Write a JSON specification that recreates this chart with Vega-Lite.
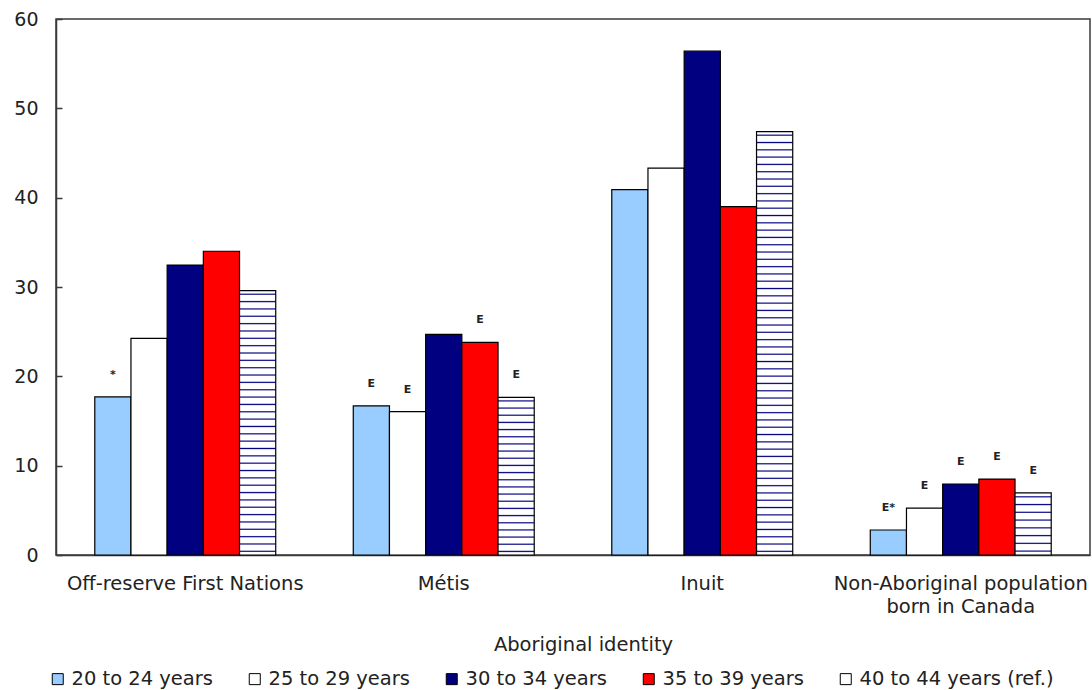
{
  "$schema": "https://vega.github.io/schema/vega-lite/v6.json",
  "width": 1034,
  "height": 536,
  "autosize": {"type": "none"},
  "padding": {"left": 56, "top": 19, "right": 2, "bottom": 135},
  "config": {
    "font": "DejaVu Sans",
    "view": {"stroke": "#3a3a3a", "strokeWidth": 1.5},
    "axis": {"grid": false, "domainColor": "#3a3a3a", "domainWidth": 1.5, "tickColor": "#3a3a3a", "tickWidth": 1.5, "labelColor": "#222222", "titleColor": "#222222", "labelFont": "DejaVu Sans", "titleFont": "DejaVu Sans"}
  },
  "data": {
    "values": [
      {"group": "Off-reserve First Nations", "series": "20 to 24 years", "value": 17.7, "note": "*"},
      {"group": "Off-reserve First Nations", "series": "25 to 29 years", "value": 24.25, "note": ""},
      {"group": "Off-reserve First Nations", "series": "30 to 34 years", "value": 32.45, "note": ""},
      {"group": "Off-reserve First Nations", "series": "35 to 39 years", "value": 34.0, "note": ""},
      {"group": "Off-reserve First Nations", "series": "40 to 44 years (ref.)", "value": 29.6, "note": ""},
      {"group": "Métis", "series": "20 to 24 years", "value": 16.7, "note": "E"},
      {"group": "Métis", "series": "25 to 29 years", "value": 16.05, "note": "E"},
      {"group": "Métis", "series": "30 to 34 years", "value": 24.7, "note": ""},
      {"group": "Métis", "series": "35 to 39 years", "value": 23.8, "note": "E"},
      {"group": "Métis", "series": "40 to 44 years (ref.)", "value": 17.65, "note": "E"},
      {"group": "Inuit", "series": "20 to 24 years", "value": 40.9, "note": ""},
      {"group": "Inuit", "series": "25 to 29 years", "value": 43.3, "note": ""},
      {"group": "Inuit", "series": "30 to 34 years", "value": 56.4, "note": ""},
      {"group": "Inuit", "series": "35 to 39 years", "value": 39.0, "note": ""},
      {"group": "Inuit", "series": "40 to 44 years (ref.)", "value": 47.4, "note": ""},
      {"group": "Non-Aboriginal population born in Canada", "series": "20 to 24 years", "value": 2.8, "note": "E*"},
      {"group": "Non-Aboriginal population born in Canada", "series": "25 to 29 years", "value": 5.25, "note": "E"},
      {"group": "Non-Aboriginal population born in Canada", "series": "30 to 34 years", "value": 7.95, "note": "E"},
      {"group": "Non-Aboriginal population born in Canada", "series": "35 to 39 years", "value": 8.5, "note": "E"},
      {"group": "Non-Aboriginal population born in Canada", "series": "40 to 44 years (ref.)", "value": 6.95, "note": "E"}
    ]
  },
  "encoding": {
    "x": {
      "field": "group", "type": "nominal",
      "sort": ["Off-reserve First Nations", "Métis", "Inuit", "Non-Aboriginal population born in Canada"],
      "scale": {"paddingInner": 0.3, "paddingOuter": 0.15},
      "axis": {
        "title": "Aboriginal identity", "labelAngle": 0, "ticks": false, "labelPadding": 19,
        "labelFontSize": 19.5, "labelLineHeight": 23, "labelLimit": 500,
        "labelExpr": "datum.value === 'Non-Aboriginal population born in Canada' ? ['Non-Aboriginal population', 'born in Canada'] : datum.value",
        "titleFontSize": 19.5, "titleFontWeight": "normal", "titleX": 527, "titleY": 95, "titleBaseline": "alphabetic", "titleAlign": "center"
      }
    },
    "xOffset": {
      "field": "series", "type": "nominal",
      "sort": ["20 to 24 years", "25 to 29 years", "30 to 34 years", "35 to 39 years", "40 to 44 years (ref.)"],
      "scale": {"paddingInner": 0, "paddingOuter": 0}
    },
    "y": {
      "field": "value", "type": "quantitative",
      "scale": {"domain": [0, 60], "nice": false},
      "axis": {"title": null, "values": [0, 10, 20, 30, 40, 50, 60], "tickSize": -6, "labelPadding": 24, "labelFontSize": 19}
    }
  },
  "layer": [
    {
      "mark": {"type": "bar", "stroke": "#000000", "strokeWidth": 1.2},
      "encoding": {
        "color": {
          "field": "series", "type": "nominal",
          "scale": {
            "domain": ["20 to 24 years", "25 to 29 years", "30 to 34 years", "35 to 39 years", "40 to 44 years (ref.)"],
            "range": ["#99ccff", "#ffffff", "#000080", "#ff0000", "#ffffff"]
          },
          "legend": {
            "title": null, "orient": "none", "direction": "horizontal", "columns": 5,
            "legendX": -8, "legendY": 650, "padding": 0,
            "labelFontSize": 19.5, "labelColor": "#222222", "labelFont": "DejaVu Sans", "labelLimit": 400,
            "symbolType": "square", "symbolSize": 121, "symbolStrokeColor": "#000000", "symbolStrokeWidth": 1,
            "symbolOpacity": 1, "columnPadding": 32, "labelOffset": 4,
            "encode": {
              "symbols": {
                "update": {
                  "stroke": {"value": "#000000"},
                  "strokeWidth": {"value": 1},
                  "fill": [
                    {"test": "datum.label === '40 to 44 years (ref.)'", "value": {"gradient": "linear", "x1": 0, "y1": 0, "x2": 0, "y2": 1, "stops": [
                      {"offset": 0.55, "color": "#ffffff"}, {"offset": 0.68, "color": "#000080"}, {"offset": 0.81, "color": "#ffffff"}
                    ]}},
                    {"scale": "color", "field": "value"}
                  ]
                }
              }
            }
          },
          "condition": [
            {
              "test": "datum.series === '40 to 44 years (ref.)' && datum.group === 'Off-reserve First Nations'",
              "value": {"gradient": "linear", "x1": 0, "y1": 0, "x2": 0, "y2": 1, "stops": [
                {"offset": 0.0094, "color": "#ffffff"}, {"offset": 0.0139, "color": "#000080"}, {"offset": 0.0184, "color": "#ffffff"},
                {"offset": 0.0372, "color": "#ffffff"}, {"offset": 0.0417, "color": "#000080"}, {"offset": 0.0462, "color": "#ffffff"},
                {"offset": 0.0649, "color": "#ffffff"}, {"offset": 0.0694, "color": "#000080"}, {"offset": 0.0739, "color": "#ffffff"},
                {"offset": 0.0927, "color": "#ffffff"}, {"offset": 0.0972, "color": "#000080"}, {"offset": 0.1017, "color": "#ffffff"},
                {"offset": 0.1205, "color": "#ffffff"}, {"offset": 0.1250, "color": "#000080"}, {"offset": 0.1295, "color": "#ffffff"},
                {"offset": 0.1483, "color": "#ffffff"}, {"offset": 0.1528, "color": "#000080"}, {"offset": 0.1573, "color": "#ffffff"},
                {"offset": 0.1761, "color": "#ffffff"}, {"offset": 0.1806, "color": "#000080"}, {"offset": 0.1851, "color": "#ffffff"},
                {"offset": 0.2038, "color": "#ffffff"}, {"offset": 0.2083, "color": "#000080"}, {"offset": 0.2128, "color": "#ffffff"},
                {"offset": 0.2316, "color": "#ffffff"}, {"offset": 0.2361, "color": "#000080"}, {"offset": 0.2406, "color": "#ffffff"},
                {"offset": 0.2594, "color": "#ffffff"}, {"offset": 0.2639, "color": "#000080"}, {"offset": 0.2684, "color": "#ffffff"},
                {"offset": 0.2872, "color": "#ffffff"}, {"offset": 0.2917, "color": "#000080"}, {"offset": 0.2962, "color": "#ffffff"},
                {"offset": 0.3149, "color": "#ffffff"}, {"offset": 0.3194, "color": "#000080"}, {"offset": 0.3239, "color": "#ffffff"},
                {"offset": 0.3427, "color": "#ffffff"}, {"offset": 0.3472, "color": "#000080"}, {"offset": 0.3517, "color": "#ffffff"},
                {"offset": 0.3705, "color": "#ffffff"}, {"offset": 0.3750, "color": "#000080"}, {"offset": 0.3795, "color": "#ffffff"},
                {"offset": 0.3983, "color": "#ffffff"}, {"offset": 0.4028, "color": "#000080"}, {"offset": 0.4073, "color": "#ffffff"},
                {"offset": 0.4261, "color": "#ffffff"}, {"offset": 0.4306, "color": "#000080"}, {"offset": 0.4351, "color": "#ffffff"},
                {"offset": 0.4538, "color": "#ffffff"}, {"offset": 0.4583, "color": "#000080"}, {"offset": 0.4628, "color": "#ffffff"},
                {"offset": 0.4816, "color": "#ffffff"}, {"offset": 0.4861, "color": "#000080"}, {"offset": 0.4906, "color": "#ffffff"},
                {"offset": 0.5094, "color": "#ffffff"}, {"offset": 0.5139, "color": "#000080"}, {"offset": 0.5184, "color": "#ffffff"},
                {"offset": 0.5372, "color": "#ffffff"}, {"offset": 0.5417, "color": "#000080"}, {"offset": 0.5462, "color": "#ffffff"},
                {"offset": 0.5649, "color": "#ffffff"}, {"offset": 0.5694, "color": "#000080"}, {"offset": 0.5739, "color": "#ffffff"},
                {"offset": 0.5927, "color": "#ffffff"}, {"offset": 0.5972, "color": "#000080"}, {"offset": 0.6017, "color": "#ffffff"},
                {"offset": 0.6205, "color": "#ffffff"}, {"offset": 0.6250, "color": "#000080"}, {"offset": 0.6295, "color": "#ffffff"},
                {"offset": 0.6483, "color": "#ffffff"}, {"offset": 0.6528, "color": "#000080"}, {"offset": 0.6573, "color": "#ffffff"},
                {"offset": 0.6761, "color": "#ffffff"}, {"offset": 0.6806, "color": "#000080"}, {"offset": 0.6851, "color": "#ffffff"},
                {"offset": 0.7038, "color": "#ffffff"}, {"offset": 0.7083, "color": "#000080"}, {"offset": 0.7128, "color": "#ffffff"},
                {"offset": 0.7316, "color": "#ffffff"}, {"offset": 0.7361, "color": "#000080"}, {"offset": 0.7406, "color": "#ffffff"},
                {"offset": 0.7594, "color": "#ffffff"}, {"offset": 0.7639, "color": "#000080"}, {"offset": 0.7684, "color": "#ffffff"},
                {"offset": 0.7872, "color": "#ffffff"}, {"offset": 0.7917, "color": "#000080"}, {"offset": 0.7962, "color": "#ffffff"},
                {"offset": 0.8149, "color": "#ffffff"}, {"offset": 0.8194, "color": "#000080"}, {"offset": 0.8239, "color": "#ffffff"},
                {"offset": 0.8427, "color": "#ffffff"}, {"offset": 0.8472, "color": "#000080"}, {"offset": 0.8517, "color": "#ffffff"},
                {"offset": 0.8705, "color": "#ffffff"}, {"offset": 0.8750, "color": "#000080"}, {"offset": 0.8795, "color": "#ffffff"},
                {"offset": 0.8983, "color": "#ffffff"}, {"offset": 0.9028, "color": "#000080"}, {"offset": 0.9073, "color": "#ffffff"},
                {"offset": 0.9261, "color": "#ffffff"}, {"offset": 0.9306, "color": "#000080"}, {"offset": 0.9351, "color": "#ffffff"},
                {"offset": 0.9538, "color": "#ffffff"}, {"offset": 0.9583, "color": "#000080"}, {"offset": 0.9628, "color": "#ffffff"},
                {"offset": 0.9816, "color": "#ffffff"}, {"offset": 0.9861, "color": "#000080"}, {"offset": 0.9906, "color": "#ffffff"}
              ]}
            },
            {
              "test": "datum.series === '40 to 44 years (ref.)' && datum.group === 'Métis'",
              "value": {"gradient": "linear", "x1": 0, "y1": 0, "x2": 0, "y2": 1, "stops": [
                {"offset": 0.0151, "color": "#ffffff"}, {"offset": 0.0227, "color": "#000080"}, {"offset": 0.0303, "color": "#ffffff"},
                {"offset": 0.0606, "color": "#ffffff"}, {"offset": 0.0682, "color": "#000080"}, {"offset": 0.0758, "color": "#ffffff"},
                {"offset": 0.1060, "color": "#ffffff"}, {"offset": 0.1136, "color": "#000080"}, {"offset": 0.1212, "color": "#ffffff"},
                {"offset": 0.1515, "color": "#ffffff"}, {"offset": 0.1591, "color": "#000080"}, {"offset": 0.1667, "color": "#ffffff"},
                {"offset": 0.1969, "color": "#ffffff"}, {"offset": 0.2045, "color": "#000080"}, {"offset": 0.2121, "color": "#ffffff"},
                {"offset": 0.2424, "color": "#ffffff"}, {"offset": 0.2500, "color": "#000080"}, {"offset": 0.2576, "color": "#ffffff"},
                {"offset": 0.2879, "color": "#ffffff"}, {"offset": 0.2955, "color": "#000080"}, {"offset": 0.3031, "color": "#ffffff"},
                {"offset": 0.3333, "color": "#ffffff"}, {"offset": 0.3409, "color": "#000080"}, {"offset": 0.3485, "color": "#ffffff"},
                {"offset": 0.3788, "color": "#ffffff"}, {"offset": 0.3864, "color": "#000080"}, {"offset": 0.3940, "color": "#ffffff"},
                {"offset": 0.4242, "color": "#ffffff"}, {"offset": 0.4318, "color": "#000080"}, {"offset": 0.4394, "color": "#ffffff"},
                {"offset": 0.4697, "color": "#ffffff"}, {"offset": 0.4773, "color": "#000080"}, {"offset": 0.4849, "color": "#ffffff"},
                {"offset": 0.5151, "color": "#ffffff"}, {"offset": 0.5227, "color": "#000080"}, {"offset": 0.5303, "color": "#ffffff"},
                {"offset": 0.5606, "color": "#ffffff"}, {"offset": 0.5682, "color": "#000080"}, {"offset": 0.5758, "color": "#ffffff"},
                {"offset": 0.6060, "color": "#ffffff"}, {"offset": 0.6136, "color": "#000080"}, {"offset": 0.6212, "color": "#ffffff"},
                {"offset": 0.6515, "color": "#ffffff"}, {"offset": 0.6591, "color": "#000080"}, {"offset": 0.6667, "color": "#ffffff"},
                {"offset": 0.6969, "color": "#ffffff"}, {"offset": 0.7045, "color": "#000080"}, {"offset": 0.7121, "color": "#ffffff"},
                {"offset": 0.7424, "color": "#ffffff"}, {"offset": 0.7500, "color": "#000080"}, {"offset": 0.7576, "color": "#ffffff"},
                {"offset": 0.7879, "color": "#ffffff"}, {"offset": 0.7955, "color": "#000080"}, {"offset": 0.8031, "color": "#ffffff"},
                {"offset": 0.8333, "color": "#ffffff"}, {"offset": 0.8409, "color": "#000080"}, {"offset": 0.8485, "color": "#ffffff"},
                {"offset": 0.8788, "color": "#ffffff"}, {"offset": 0.8864, "color": "#000080"}, {"offset": 0.8940, "color": "#ffffff"},
                {"offset": 0.9242, "color": "#ffffff"}, {"offset": 0.9318, "color": "#000080"}, {"offset": 0.9394, "color": "#ffffff"},
                {"offset": 0.9697, "color": "#ffffff"}, {"offset": 0.9773, "color": "#000080"}, {"offset": 0.9849, "color": "#ffffff"}
              ]}
            },
            {
              "test": "datum.series === '40 to 44 years (ref.)' && datum.group === 'Inuit'",
              "value": {"gradient": "linear", "x1": 0, "y1": 0, "x2": 0, "y2": 1, "stops": [
                {"offset": 0.0058, "color": "#ffffff"}, {"offset": 0.0086, "color": "#000080"}, {"offset": 0.0114, "color": "#ffffff"},
                {"offset": 0.0231, "color": "#ffffff"}, {"offset": 0.0259, "color": "#000080"}, {"offset": 0.0287, "color": "#ffffff"},
                {"offset": 0.0403, "color": "#ffffff"}, {"offset": 0.0431, "color": "#000080"}, {"offset": 0.0459, "color": "#ffffff"},
                {"offset": 0.0575, "color": "#ffffff"}, {"offset": 0.0603, "color": "#000080"}, {"offset": 0.0631, "color": "#ffffff"},
                {"offset": 0.0748, "color": "#ffffff"}, {"offset": 0.0776, "color": "#000080"}, {"offset": 0.0804, "color": "#ffffff"},
                {"offset": 0.0920, "color": "#ffffff"}, {"offset": 0.0948, "color": "#000080"}, {"offset": 0.0976, "color": "#ffffff"},
                {"offset": 0.1093, "color": "#ffffff"}, {"offset": 0.1121, "color": "#000080"}, {"offset": 0.1149, "color": "#ffffff"},
                {"offset": 0.1265, "color": "#ffffff"}, {"offset": 0.1293, "color": "#000080"}, {"offset": 0.1321, "color": "#ffffff"},
                {"offset": 0.1438, "color": "#ffffff"}, {"offset": 0.1466, "color": "#000080"}, {"offset": 0.1494, "color": "#ffffff"},
                {"offset": 0.1610, "color": "#ffffff"}, {"offset": 0.1638, "color": "#000080"}, {"offset": 0.1666, "color": "#ffffff"},
                {"offset": 0.1782, "color": "#ffffff"}, {"offset": 0.1810, "color": "#000080"}, {"offset": 0.1838, "color": "#ffffff"},
                {"offset": 0.1955, "color": "#ffffff"}, {"offset": 0.1983, "color": "#000080"}, {"offset": 0.2011, "color": "#ffffff"},
                {"offset": 0.2127, "color": "#ffffff"}, {"offset": 0.2155, "color": "#000080"}, {"offset": 0.2183, "color": "#ffffff"},
                {"offset": 0.2300, "color": "#ffffff"}, {"offset": 0.2328, "color": "#000080"}, {"offset": 0.2356, "color": "#ffffff"},
                {"offset": 0.2472, "color": "#ffffff"}, {"offset": 0.2500, "color": "#000080"}, {"offset": 0.2528, "color": "#ffffff"},
                {"offset": 0.2644, "color": "#ffffff"}, {"offset": 0.2672, "color": "#000080"}, {"offset": 0.2700, "color": "#ffffff"},
                {"offset": 0.2817, "color": "#ffffff"}, {"offset": 0.2845, "color": "#000080"}, {"offset": 0.2873, "color": "#ffffff"},
                {"offset": 0.2989, "color": "#ffffff"}, {"offset": 0.3017, "color": "#000080"}, {"offset": 0.3045, "color": "#ffffff"},
                {"offset": 0.3162, "color": "#ffffff"}, {"offset": 0.3190, "color": "#000080"}, {"offset": 0.3218, "color": "#ffffff"},
                {"offset": 0.3334, "color": "#ffffff"}, {"offset": 0.3362, "color": "#000080"}, {"offset": 0.3390, "color": "#ffffff"},
                {"offset": 0.3506, "color": "#ffffff"}, {"offset": 0.3534, "color": "#000080"}, {"offset": 0.3562, "color": "#ffffff"},
                {"offset": 0.3679, "color": "#ffffff"}, {"offset": 0.3707, "color": "#000080"}, {"offset": 0.3735, "color": "#ffffff"},
                {"offset": 0.3851, "color": "#ffffff"}, {"offset": 0.3879, "color": "#000080"}, {"offset": 0.3907, "color": "#ffffff"},
                {"offset": 0.4024, "color": "#ffffff"}, {"offset": 0.4052, "color": "#000080"}, {"offset": 0.4080, "color": "#ffffff"},
                {"offset": 0.4196, "color": "#ffffff"}, {"offset": 0.4224, "color": "#000080"}, {"offset": 0.4252, "color": "#ffffff"},
                {"offset": 0.4369, "color": "#ffffff"}, {"offset": 0.4397, "color": "#000080"}, {"offset": 0.4425, "color": "#ffffff"},
                {"offset": 0.4541, "color": "#ffffff"}, {"offset": 0.4569, "color": "#000080"}, {"offset": 0.4597, "color": "#ffffff"},
                {"offset": 0.4713, "color": "#ffffff"}, {"offset": 0.4741, "color": "#000080"}, {"offset": 0.4769, "color": "#ffffff"},
                {"offset": 0.4886, "color": "#ffffff"}, {"offset": 0.4914, "color": "#000080"}, {"offset": 0.4942, "color": "#ffffff"},
                {"offset": 0.5058, "color": "#ffffff"}, {"offset": 0.5086, "color": "#000080"}, {"offset": 0.5114, "color": "#ffffff"},
                {"offset": 0.5231, "color": "#ffffff"}, {"offset": 0.5259, "color": "#000080"}, {"offset": 0.5287, "color": "#ffffff"},
                {"offset": 0.5403, "color": "#ffffff"}, {"offset": 0.5431, "color": "#000080"}, {"offset": 0.5459, "color": "#ffffff"},
                {"offset": 0.5575, "color": "#ffffff"}, {"offset": 0.5603, "color": "#000080"}, {"offset": 0.5631, "color": "#ffffff"},
                {"offset": 0.5748, "color": "#ffffff"}, {"offset": 0.5776, "color": "#000080"}, {"offset": 0.5804, "color": "#ffffff"},
                {"offset": 0.5920, "color": "#ffffff"}, {"offset": 0.5948, "color": "#000080"}, {"offset": 0.5976, "color": "#ffffff"},
                {"offset": 0.6093, "color": "#ffffff"}, {"offset": 0.6121, "color": "#000080"}, {"offset": 0.6149, "color": "#ffffff"},
                {"offset": 0.6265, "color": "#ffffff"}, {"offset": 0.6293, "color": "#000080"}, {"offset": 0.6321, "color": "#ffffff"},
                {"offset": 0.6438, "color": "#ffffff"}, {"offset": 0.6466, "color": "#000080"}, {"offset": 0.6494, "color": "#ffffff"},
                {"offset": 0.6610, "color": "#ffffff"}, {"offset": 0.6638, "color": "#000080"}, {"offset": 0.6666, "color": "#ffffff"},
                {"offset": 0.6782, "color": "#ffffff"}, {"offset": 0.6810, "color": "#000080"}, {"offset": 0.6838, "color": "#ffffff"},
                {"offset": 0.6955, "color": "#ffffff"}, {"offset": 0.6983, "color": "#000080"}, {"offset": 0.7011, "color": "#ffffff"},
                {"offset": 0.7127, "color": "#ffffff"}, {"offset": 0.7155, "color": "#000080"}, {"offset": 0.7183, "color": "#ffffff"},
                {"offset": 0.7300, "color": "#ffffff"}, {"offset": 0.7328, "color": "#000080"}, {"offset": 0.7356, "color": "#ffffff"},
                {"offset": 0.7472, "color": "#ffffff"}, {"offset": 0.7500, "color": "#000080"}, {"offset": 0.7528, "color": "#ffffff"},
                {"offset": 0.7644, "color": "#ffffff"}, {"offset": 0.7672, "color": "#000080"}, {"offset": 0.7700, "color": "#ffffff"},
                {"offset": 0.7817, "color": "#ffffff"}, {"offset": 0.7845, "color": "#000080"}, {"offset": 0.7873, "color": "#ffffff"},
                {"offset": 0.7989, "color": "#ffffff"}, {"offset": 0.8017, "color": "#000080"}, {"offset": 0.8045, "color": "#ffffff"},
                {"offset": 0.8162, "color": "#ffffff"}, {"offset": 0.8190, "color": "#000080"}, {"offset": 0.8218, "color": "#ffffff"},
                {"offset": 0.8334, "color": "#ffffff"}, {"offset": 0.8362, "color": "#000080"}, {"offset": 0.8390, "color": "#ffffff"},
                {"offset": 0.8506, "color": "#ffffff"}, {"offset": 0.8534, "color": "#000080"}, {"offset": 0.8562, "color": "#ffffff"},
                {"offset": 0.8679, "color": "#ffffff"}, {"offset": 0.8707, "color": "#000080"}, {"offset": 0.8735, "color": "#ffffff"},
                {"offset": 0.8851, "color": "#ffffff"}, {"offset": 0.8879, "color": "#000080"}, {"offset": 0.8907, "color": "#ffffff"},
                {"offset": 0.9024, "color": "#ffffff"}, {"offset": 0.9052, "color": "#000080"}, {"offset": 0.9080, "color": "#ffffff"},
                {"offset": 0.9196, "color": "#ffffff"}, {"offset": 0.9224, "color": "#000080"}, {"offset": 0.9252, "color": "#ffffff"},
                {"offset": 0.9369, "color": "#ffffff"}, {"offset": 0.9397, "color": "#000080"}, {"offset": 0.9425, "color": "#ffffff"},
                {"offset": 0.9541, "color": "#ffffff"}, {"offset": 0.9569, "color": "#000080"}, {"offset": 0.9597, "color": "#ffffff"},
                {"offset": 0.9713, "color": "#ffffff"}, {"offset": 0.9741, "color": "#000080"}, {"offset": 0.9769, "color": "#ffffff"},
                {"offset": 0.9886, "color": "#ffffff"}, {"offset": 0.9914, "color": "#000080"}, {"offset": 0.9942, "color": "#ffffff"}
              ]}
            },
            {
              "test": "datum.series === '40 to 44 years (ref.)' && datum.group === 'Non-Aboriginal population born in Canada'",
              "value": {"gradient": "linear", "x1": 0, "y1": 0, "x2": 0, "y2": 1, "stops": [
                {"offset": 0.0435, "color": "#ffffff"}, {"offset": 0.0625, "color": "#000080"}, {"offset": 0.0815, "color": "#ffffff"},
                {"offset": 0.1685, "color": "#ffffff"}, {"offset": 0.1875, "color": "#000080"}, {"offset": 0.2065, "color": "#ffffff"},
                {"offset": 0.2935, "color": "#ffffff"}, {"offset": 0.3125, "color": "#000080"}, {"offset": 0.3315, "color": "#ffffff"},
                {"offset": 0.4185, "color": "#ffffff"}, {"offset": 0.4375, "color": "#000080"}, {"offset": 0.4565, "color": "#ffffff"},
                {"offset": 0.5435, "color": "#ffffff"}, {"offset": 0.5625, "color": "#000080"}, {"offset": 0.5815, "color": "#ffffff"},
                {"offset": 0.6685, "color": "#ffffff"}, {"offset": 0.6875, "color": "#000080"}, {"offset": 0.7065, "color": "#ffffff"},
                {"offset": 0.7935, "color": "#ffffff"}, {"offset": 0.8125, "color": "#000080"}, {"offset": 0.8315, "color": "#ffffff"},
                {"offset": 0.9185, "color": "#ffffff"}, {"offset": 0.9375, "color": "#000080"}, {"offset": 0.9565, "color": "#ffffff"}
              ]}
            }
          ]
        }
      }
    },
    {
      "mark": {"type": "text", "baseline": "alphabetic", "align": "center", "dy": -19, "fontSize": 11, "fontWeight": "bold", "color": "#222222", "font": "DejaVu Sans"},
      "encoding": {"text": {"field": "note", "type": "nominal"}}
    }
  ]
}
